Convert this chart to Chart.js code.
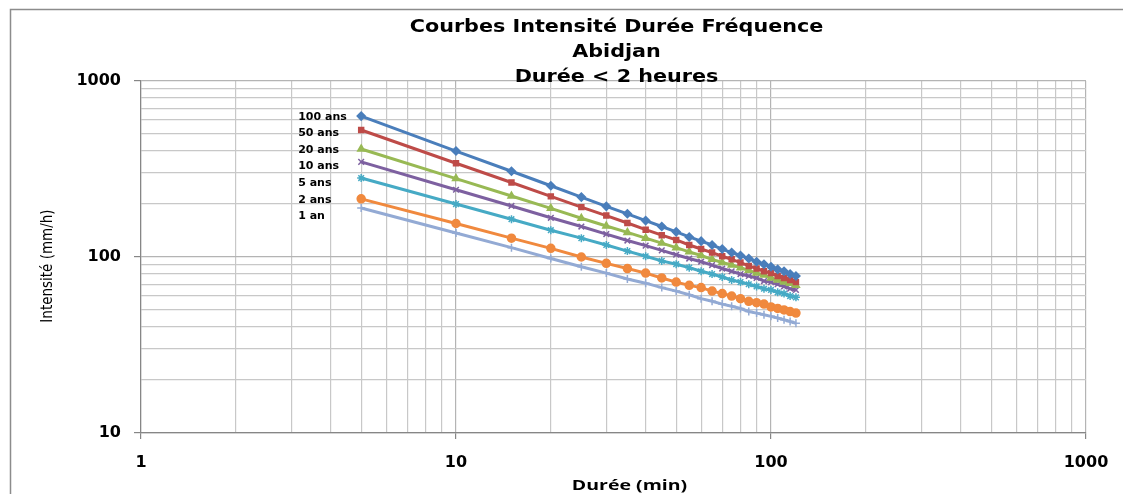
<!DOCTYPE html>
<html>
<head>
<meta charset="utf-8">
<script src="https://cdn.jsdelivr.net/npm/chart.js@4/dist/chart.umd.min.js"></script>
<style>
  html, body { margin: 0; padding: 0; background: #fff; overflow: hidden; }
  #wrap { position: relative; width: 1123px; height: 494px; }
  canvas { display: block; }
</style>
</head>
<body>
<div id="wrap"><canvas id="idf" width="1123" height="494"></canvas></div>
<script>
// Courbes IDF - Abidjan, durée < 2 heures

const durees = [5, 10, 15, 20, 25, 30, 35, 40, 45, 50, 55, 60, 65, 70, 75, 80, 85, 90, 95, 100, 105, 110, 115, 120];

const seriesNames = ['100 ans', '50 ans', '20 ans', '10 ans', '5 ans', '2 ans', '1 an'];

const i100 = [632, 400, 307, 254, 219, 194, 176, 161, 149, 139, 130, 123, 117, 111, 106, 102, 98, 94, 91, 88, 85, 83, 80, 78];
const i50  = [527, 341, 265, 221, 192, 172, 156, 143, 133, 125, 117, 111, 106, 101, 97, 93, 89, 86, 83, 81, 78, 76, 74, 72];
const i20  = [411, 279, 222, 189, 166, 150, 138, 128, 120, 113, 107, 102, 97, 93, 90, 87, 84, 81, 79, 76, 74, 72, 71, 69];
const i10  = [347, 241, 195, 167, 149, 135, 124, 116, 109, 103, 98, 94, 90, 86, 83, 80, 78, 76, 73, 72, 70, 68, 66, 65];
const i5   = [281, 200, 164, 142, 128, 117, 108, 101, 95, 91, 87, 83, 80, 77, 74, 72, 70, 68, 66, 65, 63, 62, 60, 59];
const i2   = [214, 155, 128, 112, 100, 92, 86, 81, 76, 72, 69, 67, 64, 62, 60, 58, 56, 55, 54, 52, 51, 50, 49, 48];
const i1   = [190, 137, 113, 98, 88, 81, 75, 71, 67, 64, 61, 58, 56, 54, 52.5, 51, 49, 48, 47, 46, 45, 44, 43, 42];

const xTicks = [1, 10, 100, 1000];
const yTicks = [10, 100, 1000];

const titleLines = ['Courbes Intensité Durée Fréquence', 'Abidjan', 'Durée < 2 heures'];
const xTitle = 'Durée (min)';
const yTitle = 'Intensité (mm/h)';

const colors  = ['#4A7EBB', '#BE4B48', '#98B954', '#7D60A0', '#46AAC5', '#F0893E', '#93AAD4'];
const markers = ['rectRot', 'rect', 'triangle', 'crossRot', 'star', 'circle', 'cross'];
const values  = [i100, i50, i20, i10, i5, i2, i1];

const WIDE = "'DejaVu Sans', Verdana, sans-serif";
const NARROW = "'Open Sans', 'Noto Sans', sans-serif";
const COND = "'DejaVu Sans Condensed', 'Liberation Sans Narrow', sans-serif";

const datasets = values.map((arr, i) => ({
    label: seriesNames[i],
    data: arr.map((v, j) => ({ x: durees[j], y: v })),
    borderColor: colors[i],
    backgroundColor: colors[i],
    borderWidth: 3,
    pointStyle: markers[i],
    pointRadius: i === 1 ? 3.5 : 4,
    pointBorderWidth: 1.5,
    pointBorderColor: colors[i],
    tension: 0,
}));

const isMajor = v => [1, 10, 100, 1000].includes(v);

// the reference picture is stretched sideways, so some text is too
function stretchedText(c, text, x, y, sx) {
    c.save();
    c.translate(x, y);
    c.scale(sx, 1);
    c.fillText(text, 0, 0);
    c.restore();
}

// frame + titles + series labels at the start of each curve
const decor = {
    id: 'decor',
    beforeDraw(chart) {
        const c = chart.ctx;
        c.save();
        c.fillStyle = '#fff';
        c.fillRect(0, 0, chart.width, chart.height);
        c.strokeStyle = '#8c8c8c';
        c.lineWidth = 1.5;
        c.beginPath();
        c.moveTo(10.5, chart.height);
        c.lineTo(10.5, 9.5);
        c.lineTo(chart.width, 9.5);
        c.stroke();
        c.restore();
    },
    afterDatasetsDraw(chart) {
        const c = chart.ctx;
        const ca = chart.chartArea;
        const cx = (ca.left + ca.right) / 2;
        c.save();
        c.fillStyle = '#000';
        c.textAlign = 'center';
        c.textBaseline = 'alphabetic';

        c.font = 'bold 18px ' + WIDE;
        titleLines.forEach((t, i) => stretchedText(c, t, cx + 3, 32 + i * 25, 1.15));

        c.font = 'bold 15px ' + NARROW;
        stretchedText(c, xTitle, cx + 16, 490, 1.3);

        c.save();
        c.font = '15px ' + COND;
        c.textBaseline = 'middle';
        c.translate(48, 266);
        c.rotate(-Math.PI / 2);
        c.fillText(yTitle, 0, 0);
        c.restore();

        c.font = 'bold 11px ' + WIDE;
        c.textAlign = 'left';
        c.textBaseline = 'middle';
        let prev = -Infinity;
        chart.data.datasets.forEach((ds, i) => {
            const pt = chart.getDatasetMeta(i).data[0];
            const y = Math.max(pt.y + 1, prev + 16.5);
            c.fillText(ds.label, pt.x - 63, y);
            prev = y;
        });
        c.restore();
    }
};

new Chart(document.getElementById('idf'), {
    type: 'line',
    data: { datasets },
    options: {
        responsive: false,
        animation: false,
        layout: { padding: { top: 81, right: 37, left: 0, bottom: 0 } },
        plugins: {
            legend: { display: false },
            title: { display: false },
            tooltip: { enabled: false }
        },
        scales: {
            x: {
                type: 'logarithmic',
                min: 1, max: 1000,
                afterFit: s => { s.height = 61; },
                afterBuildTicks: s => {
                    const t = [];
                    for (let d = 1; d < 1000; d *= 10) for (let k = 1; k < 10; k++) t.push({ value: k * d });
                    t.push({ value: 1000 });
                    s.ticks = t;
                },
                grid: {
                    color: ctx => isMajor(ctx.tick && ctx.tick.value) ? '#b4b4b4' : '#c8c8c8',
                    tickColor: ctx => isMajor(ctx.tick && ctx.tick.value) ? '#868686' : 'rgba(0,0,0,0)',
                    tickLength: 6,
                    lineWidth: 1.2
                },
                border: { color: '#868686', width: 1.2 },
                ticks: {
                    autoSkip: false,
                    maxRotation: 0,
                    color: '#000',
                    padding: 14,
                    font: { family: WIDE, size: 16, weight: 'bold' },
                    callback: v => xTicks.includes(v) ? String(v) : ''
                }
            },
            y: {
                type: 'logarithmic',
                min: 10, max: 1000,
                afterFit: s => { s.width = 141; },
                afterBuildTicks: s => {
                    const t = [];
                    for (let d = 10; d < 1000; d *= 10) for (let k = 1; k < 10; k++) t.push({ value: k * d });
                    t.push({ value: 1000 });
                    s.ticks = t;
                },
                grid: {
                    color: ctx => isMajor(ctx.tick && ctx.tick.value) ? '#b4b4b4' : '#c8c8c8',
                    tickColor: ctx => isMajor(ctx.tick && ctx.tick.value) ? '#868686' : 'rgba(0,0,0,0)',
                    tickLength: 7,
                    lineWidth: 1.2
                },
                border: { color: '#868686', width: 1.2 },
                ticks: {
                    autoSkip: false,
                    color: '#000',
                    padding: 13,
                    font: { family: WIDE, size: 16, weight: 'bold' },
                    callback: v => yTicks.includes(v) ? String(v) : ''
                }
            }
        }
    },
    plugins: [decor]
});
</script>
</body>
</html>
